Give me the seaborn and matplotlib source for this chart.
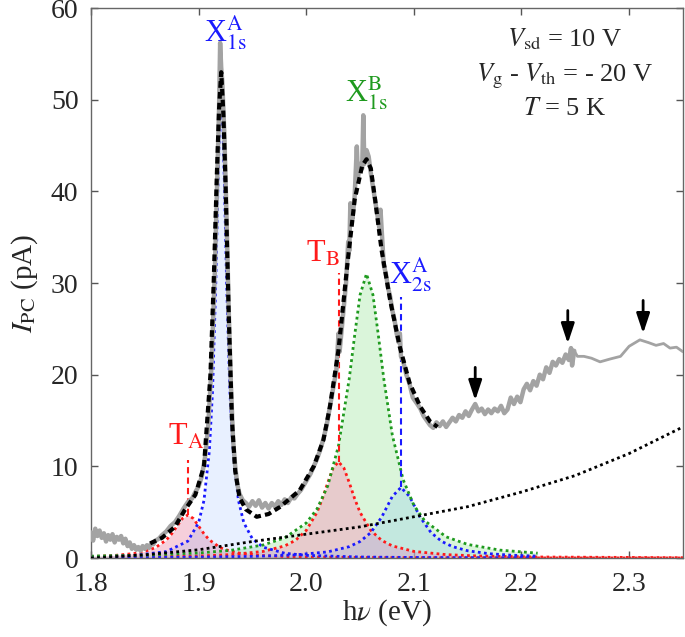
import matplotlib
matplotlib.use("Agg")
import matplotlib.pyplot as plt
import seaborn as sns

# ---------------- data ----------------
# measured photocurrent (grey)
exp_x = [1.800, 1.802, 1.804, 1.806, 1.808, 1.810, 1.812, 1.814, 1.816, 1.818, 1.820, 1.822, 1.824, 1.826,
         1.828, 1.830, 1.832, 1.834, 1.836, 1.838, 1.840, 1.842, 1.844, 1.846, 1.848, 1.850, 1.852, 1.854,
         1.856, 1.858, 1.860, 1.863, 1.866, 1.870, 1.874, 1.878, 1.882, 1.886, 1.890, 1.894, 1.897, 1.900,
         1.903, 1.906, 1.909, 1.912, 1.915, 1.917, 1.919, 1.920, 1.921, 1.922, 1.924, 1.926, 1.928, 1.930,
         1.932, 1.934, 1.936, 1.938, 1.941, 1.944, 1.947, 1.950, 1.953, 1.956, 1.959, 1.962, 1.965, 1.968,
         1.971, 1.974, 1.977, 1.980, 1.983, 1.986, 1.989, 1.992, 1.995, 1.998, 2.001, 2.004, 2.007, 2.010,
         2.013, 2.016, 2.019, 2.022, 2.025, 2.028, 2.030, 2.031, 2.033, 2.035, 2.037, 2.039, 2.040, 2.041,
         2.043, 2.045, 2.047, 2.048, 2.050, 2.052, 2.053, 2.054, 2.056, 2.058, 2.060, 2.062, 2.064, 2.066,
         2.068, 2.069, 2.071, 2.072, 2.074, 2.076, 2.078, 2.080, 2.082, 2.084, 2.086, 2.087, 2.088, 2.090,
         2.093, 2.096, 2.099, 2.102, 2.106, 2.109, 2.112, 2.115, 2.118, 2.121, 2.124, 2.127, 2.130, 2.133,
         2.136, 2.139, 2.142, 2.145, 2.148, 2.151, 2.154, 2.157, 2.160, 2.163, 2.166, 2.169, 2.172, 2.175,
         2.178, 2.181, 2.184, 2.187, 2.190, 2.193, 2.196, 2.199, 2.202, 2.205, 2.208, 2.211, 2.214, 2.217,
         2.220, 2.223, 2.226, 2.229, 2.232, 2.235, 2.238, 2.241, 2.244, 2.246, 2.247, 2.249]
exp_y = [2.8, 1.9, 3.2, 2.4, 3.0, 2.2, 2.7, 1.8, 2.5, 2.0, 2.6, 1.7, 2.3, 2.0,
         2.4, 1.6, 2.1, 1.3, 1.7, 1.0, 1.4, 0.9, 1.2, 0.8, 1.3, 1.0, 1.4, 1.1,
         1.6, 1.5, 1.9, 2.1, 2.5, 2.9, 3.5, 3.9, 4.6, 5.4, 6.1, 6.5, 7.2, 7.8,
         8.9, 11.0, 14.5, 21.0, 31.0, 40.0, 49.0, 56.2, 53.5, 52.0, 46.0, 37.0, 27.0, 19.0,
         13.0, 10.0, 8.0, 7.0, 6.3, 6.0, 5.6, 6.2, 5.7, 6.3, 5.5, 6.0, 5.4, 6.0,
         5.6, 6.2, 5.8, 6.4, 6.0, 6.6, 6.5, 7.0, 7.4, 8.0, 8.6, 9.2, 10.0, 10.8,
         11.8, 13.0, 14.5, 16.5, 18.5, 20.5, 24.5, 22.5, 25.0, 27.5, 30.0, 34.5, 33.5, 38.7,
         37.0, 39.5, 44.9, 41.5, 43.0, 42.5, 48.3, 43.0, 44.5, 43.8, 42.0, 40.5, 39.0, 37.5,
         36.0, 38.0, 34.0, 32.0, 31.0, 29.5, 28.5, 27.0, 26.0, 24.5, 23.5, 24.5, 22.0, 21.5,
         20.0, 19.0, 17.5, 17.0, 16.3, 15.5, 15.0, 14.5, 14.2, 14.8, 14.4, 14.9, 14.3, 14.8,
         15.3, 14.9, 15.6, 15.3, 16.0, 15.5, 16.2, 16.8, 16.0, 16.3, 15.7, 16.2, 15.8, 16.3,
         16.0, 16.6, 15.8, 16.2, 17.5, 16.8, 17.6, 17.0, 18.4, 19.0, 18.3, 19.3, 18.8, 20.0,
         19.5, 20.8, 20.2, 21.4, 21.0, 21.7, 21.3, 22.2, 21.6, 22.9, 21.0, 22.6]
# sparser high-energy part of the measurement (thinner grey line)
exp2_x = [2.246, 2.249, 2.252, 2.258, 2.265, 2.273, 2.282, 2.292, 2.300, 2.310, 2.318, 2.325,
          2.332, 2.338, 2.344, 2.350]
exp2_y = [22.9, 22.6, 22.0, 22.0, 21.8, 21.4, 21.7, 22.0, 23.1, 23.8, 23.5, 23.2,
          23.4, 22.9, 23.0, 22.5]

# total fit (black dashed)
fit_x = [1.855, 1.866, 1.878, 1.887, 1.897, 1.905, 1.911, 1.914, 1.917, 1.919, 1.921, 1.923, 1.925,
         1.928, 1.931, 1.934, 1.938, 1.944, 1.954, 1.965, 1.976, 1.994, 2.007, 2.016, 2.022, 2.030,
         2.038, 2.045, 2.052, 2.056, 2.060, 2.064, 2.070, 2.078, 2.087, 2.096, 2.106, 2.115, 2.122]
fit_y = [1.6, 2.2, 3.4, 5.2, 6.9, 10.0, 20.0, 30.0, 42.0, 49.0, 53.0, 48.5, 41.0,
         26.5, 15.0, 9.5, 6.6, 5.3, 4.5, 4.8, 5.6, 7.4, 10.0, 12.9, 16.5, 22.7,
         31.8, 39.1, 42.8, 43.5, 42.5, 39.1, 33.6, 28.1, 23.0, 19.1, 16.5, 14.9, 14.3]

# fitted components
ta_x = [1.80, 1.82, 1.84, 1.85, 1.86, 1.87, 1.875, 1.88, 1.885, 1.89, 1.895, 1.90, 1.905, 1.91,
        1.92, 1.93, 1.94, 1.96, 1.98, 2.00, 2.05, 2.10, 2.15, 2.215, 2.35]
ta_y = [0.16, 0.26, 0.49, 0.72, 1.14, 1.97, 2.64, 3.48, 4.32, 4.70, 4.32, 3.48, 2.64, 1.97,
        1.14, 0.72, 0.49, 0.26, 0.16, 0.11, 0.053, 0.031, 0.020, 0.013, 0.006]

xa1_x = [1.80, 1.84, 1.87, 1.89, 1.90, 1.905, 1.91, 1.913, 1.916, 1.918, 1.92, 1.921, 1.922, 1.924,
         1.926, 1.929, 1.932, 1.937, 1.942, 1.95, 1.96, 1.98, 2.00, 2.05, 2.10, 2.15, 2.215]
xa1_y = [0.125, 0.28, 0.70, 1.84, 3.85, 6.29, 11.7, 18.3, 30.1, 40.8, 49.6, 51.0, 49.6, 40.8,
         30.1, 18.3, 11.7, 6.29, 3.85, 2.09, 1.18, 0.52, 0.29, 0.11, 0.057, 0.035, 0.021]

tb_x = [1.80, 1.85, 1.90, 1.93, 1.96, 1.98, 1.99, 2.00, 2.01, 2.015, 2.02, 2.025, 2.03, 2.035,
        2.04, 2.045, 2.05, 2.06, 2.07, 2.08, 2.10, 2.13, 2.16, 2.215, 2.35]
tb_y = [0.071, 0.116, 0.22, 0.37, 0.72, 1.32, 1.93, 3.01, 4.98, 6.47, 8.22, 9.82, 10.5, 9.82,
        8.22, 6.47, 4.98, 3.01, 1.93, 1.32, 0.72, 0.37, 0.22, 0.11, 0.037]

xb1_x = [1.80, 1.85, 1.90, 1.93, 1.96, 1.98, 2.00, 2.01, 2.02, 2.03, 2.04, 2.045, 2.05, 2.056,
         2.062, 2.067, 2.072, 2.08, 2.09, 2.10, 2.11, 2.13, 2.15, 2.18, 2.215]
xb1_y = [0.207, 0.319, 0.55, 0.84, 1.42, 2.2, 3.82, 5.35, 7.87, 12.25, 19.6, 24.3, 28.7, 31.0,
         28.7, 24.3, 19.6, 13.4, 8.56, 5.75, 4.07, 2.31, 1.48, 0.86, 0.53]

xa2_x = [1.80, 1.85, 1.90, 1.95, 1.99, 2.02, 2.04, 2.05, 2.06, 2.07, 2.08, 2.088, 2.096, 2.106,
         2.116, 2.126, 2.136, 2.15, 2.17, 2.19, 2.215]
xa2_y = [0.041, 0.06, 0.095, 0.174, 0.34, 0.67, 1.24, 1.8, 2.77, 4.44, 6.72, 7.7, 6.72, 4.44,
         2.77, 1.8, 1.24, 0.79, 0.47, 0.31, 0.20]

# background (black dotted)
bg_x = [1.80, 1.85, 1.90, 1.95, 2.00, 2.05, 2.10, 2.15, 2.20, 2.25, 2.30, 2.35]
bg_y = [0.0, 0.35, 0.9, 1.8, 2.6, 3.4, 4.5, 5.6, 7.2, 9.0, 11.4, 14.3]

# peak labels
peak_labels = [r"T$_{\mathrm{A}}$", r"X$_{\mathrm{1s}}^{\mathrm{A}}$", r"T$_{\mathrm{B}}$",
               r"X$_{\mathrm{1s}}^{\mathrm{B}}$", r"X$_{\mathrm{2s}}^{\mathrm{A}}$"]
label_x = [1.888, 1.925, 2.015, 2.056, 2.097]
label_y = [13.2, 57.3, 33.1, 50.7, 30.9]
marker_x = [1.890, 2.030, 2.088]
marker_y0 = [4.7, 10.5, 7.7]
marker_y1 = [10.7, 31.1, 28.5]

arrow_x = [2.157, 2.243, 2.313]
arrow_tip = [17.2, 23.4, 24.5]

xticks = [1.8, 1.9, 2.0, 2.1, 2.2, 2.3]
yticks = [0, 10, 20, 30, 40, 50, 60]

# ---------------- style ----------------
sns.set_style("ticks")
plt.rcParams["font.family"] = ["Liberation Serif", "DejaVu Serif"]
plt.rcParams["mathtext.fontset"] = "stix"

RED = "#ff1a1a"
BLUE = "#1a1aff"
GREEN = "#1f9a1f"

fig = plt.figure(figsize=(6.85, 6.37), dpi=100)
ax = fig.add_axes([0.1328, 0.124, 0.8642, 0.8634])

# fills (green first, then red and blue on top)
ax.fill_between(xb1_x, xb1_y, 0, color="#33cc33", alpha=0.18, lw=0, zorder=1)
ax.fill_between(ta_x, ta_y, 0, color="#f0b0c4", alpha=0.6, lw=0, zorder=1)
ax.fill_between(tb_x, tb_y, 0, color="#f0b0c4", alpha=0.6, lw=0, zorder=1)
ax.fill_between(xa1_x, xa1_y, 0, color="#5090ff", alpha=0.13, lw=0, zorder=1)
ax.fill_between(xa2_x, xa2_y, 0, color="#40a0ff", alpha=0.15, lw=0, zorder=1)

dot = (0, (1, 1.2))
for xs, ys, c in [(ta_x, ta_y, RED), (tb_x, tb_y, RED), (xa1_x, xa1_y, BLUE),
                  (xa2_x, xa2_y, BLUE), (xb1_x, xb1_y, GREEN)]:
    sns.lineplot(x=xs, y=ys, ax=ax, color=c, lw=2, linestyle=dot, estimator=None, zorder=2)

sns.lineplot(x=bg_x, y=bg_y, ax=ax, color="black", lw=2, linestyle=dot, estimator=None, zorder=3)

# grey data
sns.lineplot(x=exp_x, y=exp_y, ax=ax, color="#a3a3a3", lw=3.2, estimator=None, zorder=4)
sns.lineplot(x=exp2_x, y=exp2_y, ax=ax, color="#a3a3a3", lw=2.0, estimator=None, zorder=4)
# fit
sns.lineplot(x=fit_x, y=fit_y, ax=ax, color="black", lw=3, linestyle=(0, (1.6, 1.0)),
             estimator=None, zorder=5)

# markers + labels
mcols = [RED, RED, BLUE]
for mx, y0, y1, c in zip(marker_x, marker_y0, marker_y1, mcols):
    ax.plot([mx, mx], [y0, y1], color=c, lw=1.5, linestyle=(0, (3, 2)), zorder=3)
lcols = [RED, BLUE, RED, GREEN, BLUE]
for t, lx, ly, c in zip(peak_labels, label_x, label_y, lcols):
    ax.text(lx, ly, t, color=c, fontsize=22, ha="center", va="center", zorder=6)

for axx, tip in zip(arrow_x, arrow_tip):
    ax.annotate("", xy=(axx, tip), xytext=(axx, tip + 3.6),
                arrowprops=dict(arrowstyle="-|>,head_length=1.2,head_width=0.4",
                                color="black", lw=2, shrinkA=0, shrinkB=0), zorder=6)

ax.text(2.24, 56.6, r"$V_{\mathrm{sd}}$ = 10 V", fontsize=19, ha="center", va="center")
ax.text(2.24, 52.5, r"$V_{\mathrm{g}}$ - $V_{\mathrm{th}}$ = - 20 V", fontsize=19, ha="center", va="center")
ax.text(2.24, 49.0, r"$T$ = 5 K", fontsize=19, ha="center", va="center")

ax.set_xlim(1.8, 2.35)
ax.set_ylim(0, 60)
ax.set_xticks(xticks)
ax.set_xticklabels([f"{v:.1f}" for v in xticks])
ax.set_yticks(yticks)
ax.set_yticklabels([str(v) for v in yticks])
ax.tick_params(direction="in", top=True, right=True, length=5, width=1, color="#555555",
               labelsize=20)
ax.tick_params(axis="y", pad=9)
ax.tick_params(axis="x", pad=10)
for s in ax.spines.values():
    s.set_visible(True)
    s.set_color("#666666")
    s.set_linewidth(1)

ax.set_xlabel(r"h$\nu$ (eV)", fontsize=21, labelpad=0)
ax.set_ylabel(r"$I_{\mathrm{PC}}$ (pA)", fontsize=21, labelpad=8)

fig.savefig("out.png", dpi=100)
